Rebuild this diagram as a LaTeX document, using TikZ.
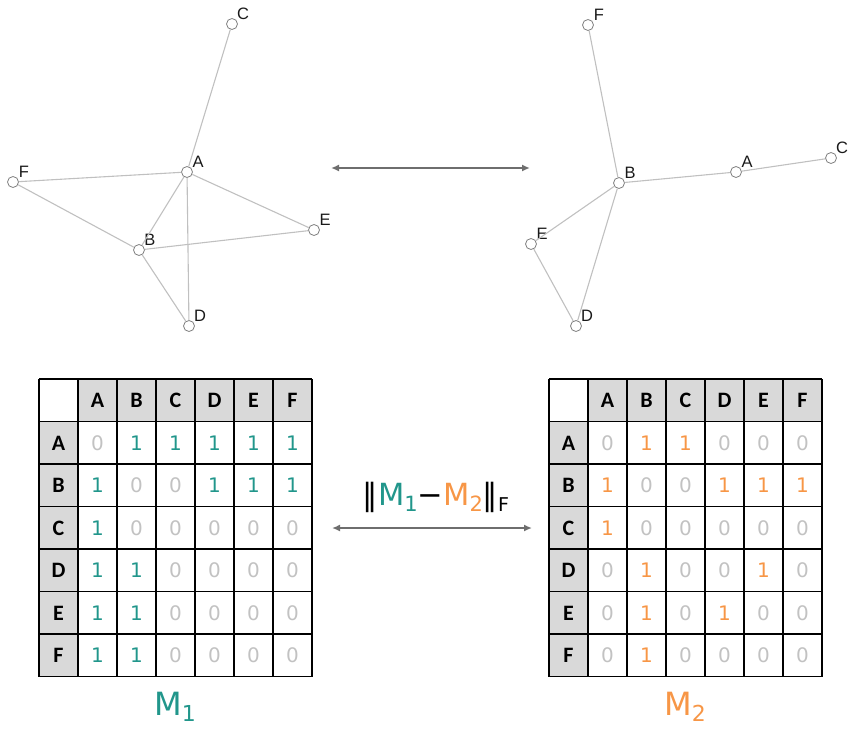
\documentclass[tikz,border=0pt]{standalone}
\usepackage{fontspec}
\setmainfont{DejaVu Sans}
\newfontfamily\hdrfont{Carlito}
\newfontfamily\lblfont{Liberation Sans}
\usetikzlibrary{arrows.meta}
\definecolor{tealc}{HTML}{21968B}
\definecolor{orangec}{HTML}{F79646}
\definecolor{zeroc}{HTML}{C2C2C2}
\definecolor{hdrc}{HTML}{D9D9D9}
\definecolor{edgec}{HTML}{C0C0C0}
\definecolor{vtxc}{HTML}{808080}
\definecolor{arrowc}{HTML}{6E6E6E}
\newcommand\lowsub[2]{\raisebox{-0.2em}{\fontsize{#1}{#1}\selectfont #2}}
\tikzset{
  vtx/.style={circle,draw=vtxc,fill=white,line width=0.8pt,minimum size=11pt,inner sep=0pt},
  vlbl/.style={font=\lblfont\fontsize{16.5}{16.5}\selectfont,text=black!90,inner sep=0pt},
  link/.style={draw=edgec,line width=1.1pt},
  biarrow/.style={draw=arrowc,line width=2pt,{Latex[length=8pt,width=7pt]}-{Latex[length=8pt,width=7pt]}},
  hdrcell/.style={fill=hdrc},
  gridline/.style={draw=black,line width=1.3pt},
  hdrtxt/.style={font=\hdrfont\bfseries\fontsize{22}{22}\selectfont,inner sep=0pt},
  valtxt/.style={font=\fontsize{20}{20}\selectfont,inner sep=0pt},
}
\begin{document}
\begin{tikzpicture}[x=1pt,y=-1pt]
\useasboundingbox (0,0) rectangle (848,728);

% ---------- left graph ----------
\node[vtx] (lA) at (187,172) {};
\node[vtx] (lB) at (139,250) {};
\node[vtx] (lC) at (232,24) {};
\node[vtx] (lD) at (189,326) {};
\node[vtx] (lE) at (314,230) {};
\node[vtx] (lF) at (13,182) {};
\foreach \v in {A,B,C,D,E,F}
  \node[vlbl] (lt\v) at ([shift={(11,-10)}]l\v.center) {\v};
\foreach \a/\b in {A/C,A/F,A/B,A/D,A/E,B/F,B/E,B/D}
  \draw[link] (l\a) -- (l\b);

% ---------- right graph ----------
\node[vtx] (rA) at (736,172) {};
\node[vtx] (rB) at (619,183) {};
\node[vtx] (rC) at (831,158) {};
\node[vtx] (rD) at (576,326) {};
\node[vtx] (rE) at (531,244) {};
\node[vtx] (rF) at (588,25) {};
\foreach \v in {A,B,C,D,E,F}
  \node[vlbl] (rt\v) at ([shift={(11,-10)}]r\v.center) {\v};
\foreach \a/\b in {F/B,B/A,A/C,B/E,B/D,E/D}
  \draw[link] (r\a) -- (r\b);

% ---------- arrows between the two halves ----------
\coordinate (ta1) at (331,168);
\coordinate (ta2) at (530,168);
\draw[biarrow] (ta1) -- (ta2);
\coordinate (ma1) at (332,528);
\coordinate (ma2) at (532,528);
\draw[biarrow] (ma1) -- (ma2);
\node[anchor=base,inner sep=0pt,font=\fontsize{30.5}{30.5}\selectfont] (norm) at (436,505)
  {‖\textcolor{tealc}{M\lowsub{21}{1}}−\textcolor{orangec}{M\lowsub{21}{2}}‖\lowsub{19}{F}};

% ---------- adjacency matrices ----------
\foreach \pre/\xo/\col/\rows in {
  L/39/tealc/{{0,1,1,1,1,1},{1,0,0,1,1,1},{1,0,0,0,0,0},{1,1,0,0,0,0},{1,1,0,0,0,0},{1,1,0,0,0,0}},
  R/549/orangec/{{0,1,1,0,0,0},{1,0,0,1,1,1},{1,0,0,0,0,0},{0,1,0,0,1,0},{0,1,0,1,0,0},{0,1,0,0,0,0}}}{
  % header fills
  \fill[hdrcell] (\xo+39,379) rectangle (\xo+273,421.5);
  \fill[hdrcell] (\xo,421.5) rectangle (\xo+39,676.5);
  % grid
  \foreach \k in {0,...,7}{
    \draw[gridline] (\xo+\k*39,379) -- (\xo+\k*39,676.5);
    \draw[gridline] (\xo,379+\k*42.5) -- (\xo+273,379+\k*42.5);
  }
  % header labels
  \foreach \h [count=\c] in {A,B,C,D,E,F}{
    \node[hdrtxt] (\pre-h0-\c) at (\xo+\c*39+19.5,400.5) {\h};
    \node[hdrtxt] (\pre-h\c-0) at (\xo+19.5,379+\c*42.5+21.5) {\h};
  }
  % values
  \foreach \row [count=\r] in \rows{
    \foreach \v [count=\c] in \row{
      \node[valtxt] (\pre-\r-\c) at (\xo+\c*39+19.5,379+\r*42.5+21.5)
        {\ifnum\v=1 \textcolor{\col}{1}\else\textcolor{zeroc}{0}\fi};
    }
  }
}

% ---------- matrix names ----------
\node[anchor=base,inner sep=0pt,text=tealc,font=\fontsize{32}{32}\selectfont] (m1) at (175,715) {M\lowsub{22}{1}};
\node[anchor=base,inner sep=0pt,text=orangec,font=\fontsize{32}{32}\selectfont] (m2) at (685,715) {M\lowsub{22}{2}};
\end{tikzpicture}
\end{document}
